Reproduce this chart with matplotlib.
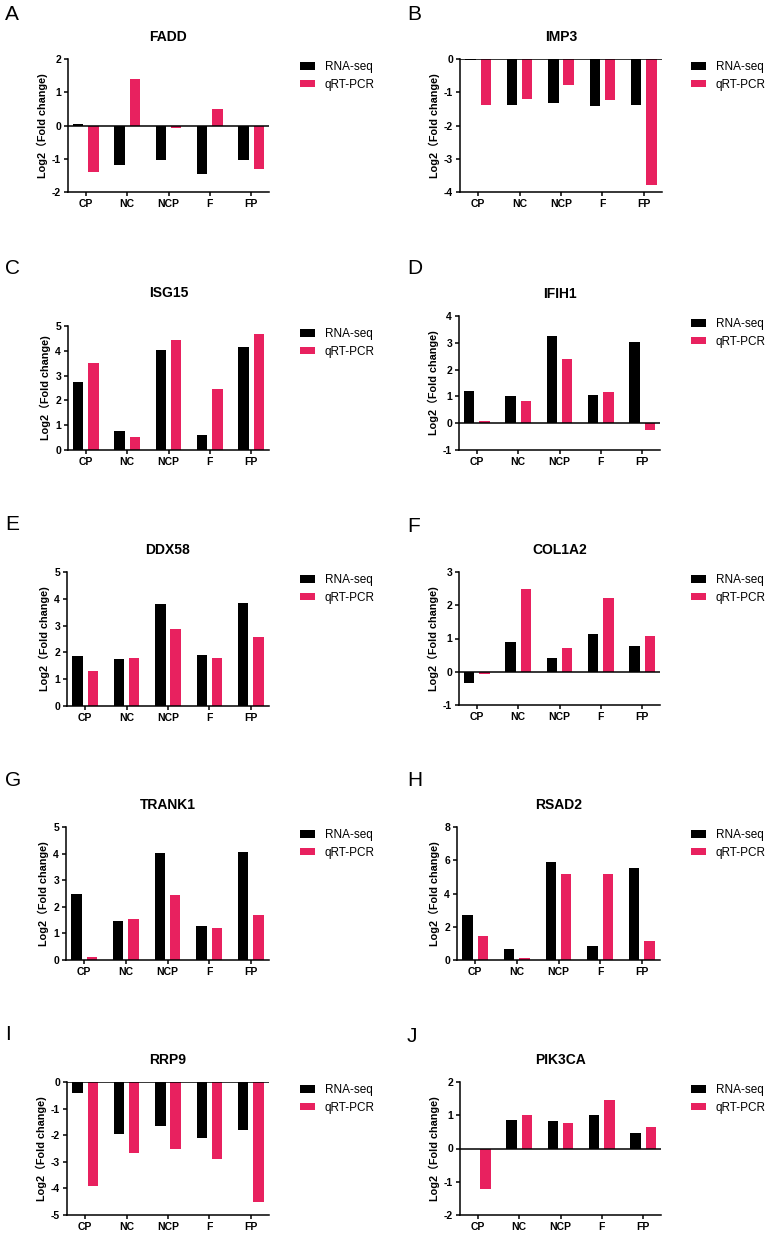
import numpy as np
import matplotlib
matplotlib.use("Agg")
import matplotlib.pyplot as plt

plt.rcParams['font.family'] = ['Liberation Sans', 'Noto Sans CJK SC', 'DejaVu Sans']

groups = ["CP", "NC", "NCP", "F", "FP"]
genes = ["FADD", "IMP3", "ISG15", "IFIH1", "DDX58", "COL1A2", "TRANK1", "RSAD2", "RRP9", "PIK3CA"]
letters = ["A", "B", "C", "D", "E", "F", "G", "H", "I", "J"]

# log2 fold change
rnaseq = {
    "FADD":   [0.04, -1.20, -1.03, -1.45, -1.05],
    "IMP3":   [-0.02, -1.38, -1.33, -1.40, -1.38],
    "ISG15":  [2.73, 0.76, 4.02, 0.60, 4.17],
    "IFIH1":  [1.21, 1.01, 3.25, 1.06, 3.03],
    "DDX58":  [1.85, 1.74, 3.80, 1.89, 3.84],
    "COL1A2": [-0.33, 0.88, 0.42, 1.13, 0.78],
    "TRANK1": [2.48, 1.46, 4.04, 1.28, 4.07],
    "RSAD2":  [2.68, 0.66, 5.88, 0.84, 5.54],
    "RRP9":   [-0.40, -1.95, -1.64, -2.11, -1.80],
    "PIK3CA": [-0.02, 0.85, 0.83, 1.01, 0.47],
}
qrtpcr = {
    "FADD":   [-1.39, 1.40, -0.09, 0.49, -1.31],
    "IMP3":   [-1.39, -1.19, -0.78, -1.24, -3.78],
    "ISG15":  [3.49, 0.53, 4.45, 2.44, 4.68],
    "IFIH1":  [0.10, 0.83, 2.38, 1.18, -0.24],
    "DDX58":  [1.29, 1.80, 2.87, 1.80, 2.56],
    "COL1A2": [-0.08, 2.48, 0.72, 2.21, 1.09],
    "TRANK1": [0.11, 1.55, 2.45, 1.19, 1.70],
    "RSAD2":  [1.46, 0.12, 5.18, 5.18, 1.12],
    "RRP9":   [-3.90, -2.68, -2.51, -2.91, -4.51],
    "PIK3CA": [-1.23, 1.01, 0.76, 1.46, 0.66],
}
ylims = [(-2, 2), (-4, 0), (0, 5), (-1, 4), (0, 5), (-1, 3), (0, 5), (0, 8), (-5, 0), (-2, 2)]
ysteps = [1, 1, 1, 1, 1, 1, 1, 2, 1, 1]

# axes boxes in pixels: left, right, top, bottom
boxes = [(68, 269, 59, 192), (460, 662, 59, 192),
         (68, 269, 326, 450), (459, 660, 316, 450),
         (67, 269, 572, 706), (459, 660, 572, 705),
         (66, 269, 827, 960), (457, 660, 827, 960),
         (67, 269, 1082, 1215), (460, 661, 1082, 1215)]
title_y = [37, 37, 293, 294, 550, 550, 805, 805, 1060, 1060]
letter_y = [15, 15, 269, 268, 525, 527, 780, 780, 1035, 1037]

W, H = 767, 1237
black = "#000000"
pink = "#e8215f"

fig = plt.figure(figsize=(W / 100, H / 100), dpi=100)

x = np.arange(len(groups))
bw = 0.25
off = 0.185

for i, g in enumerate(genes):
    l, r, t, b = boxes[i]
    ax = fig.add_axes([l / W, 1 - b / H, (r - l) / W, (b - t) / H])
    ax.bar(x - off, rnaseq[g], bw, color=black, label="RNA-seq")
    ax.bar(x + off, qrtpcr[g], bw, color=pink, label="qRT-PCR")
    lo, hi = ylims[i]
    ax.set_ylim(lo, hi)
    ax.set_xlim(-0.435, 4.435)
    yt = np.arange(lo, hi + 0.01, ysteps[i])
    ax.set_yticks(yt)
    ax.set_yticklabels([str(int(v)) for v in yt], fontsize=7.5, fontweight="bold")
    ax.set_xticks(x)
    ax.set_xticklabels(groups, fontsize=7.5, fontweight="bold")
    if lo < 0 <= hi:
        ax.axhline(0, color="black", lw=1.1, zorder=3)
    for s in ["top", "right"]:
        ax.spines[s].set_visible(False)
    for s in ["left", "bottom"]:
        ax.spines[s].set_linewidth(1.1)
    ax.tick_params(width=1.1, length=3, pad=2)
    ax.set_ylabel("Log2（Fold change)", fontsize=7.8, fontweight="bold", labelpad=3)

    fig.text((l + r) / 2 / W, 1 - title_y[i] / H, g, ha="center", va="center",
             fontsize=10, fontweight="bold")
    lx = 5 if i % 2 == 0 else 407
    fig.text(lx / W, 1 - letter_y[i] / H, letters[i], ha="left", va="center",
             fontsize=15)

    legx = 300 if i % 2 == 0 else 691
    ax.legend(loc="upper left", bbox_to_anchor=(legx / W, 1 - (t + 2) / H),
              bbox_transform=fig.transFigure, frameon=False, fontsize=8.5,
              handlelength=1.3, handleheight=0.6, handletextpad=0.8,
              labelspacing=0.5, borderpad=0, borderaxespad=0)

fig.savefig("out.png", dpi=100)
